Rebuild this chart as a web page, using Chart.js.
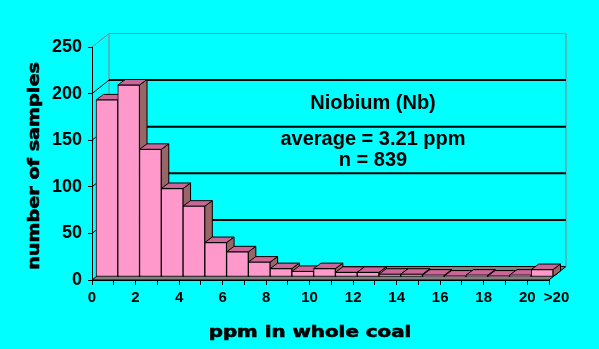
<!DOCTYPE html>
<html>
<head>
<meta charset="utf-8">
<script src="https://cdn.jsdelivr.net/npm/chart.js@4.4.0/dist/chart.umd.min.js"></script>
<style>
  html, body { margin: 0; padding: 0; background: #00FFFF; }
  canvas { display: block; }
</style>
</head>
<body>
<canvas id="nbChart" width="599" height="349"></canvas>
<script>
// histogram bins in ppm (bin 20 is the ">20" bin)
const binStarts = [0, 1, 2, 3, 4, 5, 6, 7, 8, 9, 10, 11, 12, 13, 14, 15, 16, 17, 18, 19, 20];
const sampleCounts = [190, 206, 137, 95, 76, 37, 27, 16, 9, 6, 9, 5, 5, 3, 3, 2, 1, 2, 1, 2, 8];
const yTickValues = [0, 50, 100, 150, 200, 250];
const xTickLabels = ['0', '', '2', '', '4', '', '6', '', '8', '', '10', '', '12', '', '14', '', '16', '', '18', '', '20', '\u2002\u2002>20'];
const noteLines = ['Niobium (Nb)', 'average = 3.21 ppm', 'n = 839'];

const FRONT = '#FF99CC', TOP = '#CC6699', SIDE = '#996666', FLOOR = '#808080';
const WALL = { dx: 17, dy: -13.5 };   // back wall offset from the front plane
const BAR = { dx: 4, dy: -3 };        // bars sit a little behind the front plane
const DEPTH = { dx: 7.5, dy: -5.5 };  // depth of each column

function poly(ctx, pts, fill) {
    ctx.beginPath();
    ctx.moveTo(pts[0][0], pts[0][1]);
    for (let i = 1; i < pts.length; i++) ctx.lineTo(pts[i][0], pts[i][1]);
    ctx.closePath();
    ctx.fillStyle = fill;
    ctx.fill();
    ctx.stroke();
}

function line(ctx, x1, y1, x2, y2) {
    ctx.beginPath();
    ctx.moveTo(x1, y1);
    ctx.lineTo(x2, y2);
    ctx.stroke();
}

const depthPlugin = {
    id: 'depth3d',
    beforeDatasetsDraw(chart) {
        const ctx = chart.ctx;
        const xs = chart.scales.x, ys = chart.scales.y;
        const left = xs.getPixelForValue(0), right = xs.getPixelForValue(21);
        const base = ys.getPixelForValue(0), top = ys.getPixelForValue(250);

        ctx.save();
        // floor
        ctx.strokeStyle = '#000';
        ctx.lineWidth = 1;
        poly(ctx, [[left, base], [right, base], [right + WALL.dx, base + WALL.dy], [left + WALL.dx, base + WALL.dy]], FLOOR);

        // wall edges
        ctx.strokeStyle = '#808080';
        line(ctx, left + WALL.dx, top + WALL.dy, left + WALL.dx, base + WALL.dy);
        line(ctx, right + WALL.dx, top + WALL.dy, right + WALL.dx, base + WALL.dy);

        // gridlines on back wall + diagonals on side wall
        yTickValues.forEach(v => {
            if (v === 0) return;
            const py = ys.getPixelForValue(v);
            const isTop = v === yTickValues[yTickValues.length - 1];
            ctx.strokeStyle = isTop ? '#808080' : '#000';
            ctx.lineWidth = 1;
            line(ctx, left, py, left + WALL.dx, py + WALL.dy);
            ctx.lineWidth = isTop ? 1 : 2;
            line(ctx, left + WALL.dx, py + WALL.dy, right + WALL.dx, py + WALL.dy);
        });
        ctx.restore();

        // column sides and tops, then the library draws the front faces
        ctx.save();
        ctx.translate(BAR.dx, BAR.dy);
        ctx.strokeStyle = '#000';
        ctx.lineWidth = 1;
        const meta = chart.getDatasetMeta(0);
        meta.data.forEach(bar => {
            const l = bar.x - bar.width / 2, r = bar.x + bar.width / 2;
            const t = bar.y, b = bar.base;
            poly(ctx, [[r, t], [r + DEPTH.dx, t + DEPTH.dy], [r + DEPTH.dx, b + DEPTH.dy], [r, b]], SIDE);
            poly(ctx, [[l, t], [r, t], [r + DEPTH.dx, t + DEPTH.dy], [l + DEPTH.dx, t + DEPTH.dy]], TOP);
        });
        // keep translation for the dataset draw
    },
    afterDatasetsDraw(chart) {
        chart.ctx.restore();
    },
    afterDraw(chart) {
        const ctx = chart.ctx;
        ctx.save();
        ctx.fillStyle = '#000';
        ctx.strokeStyle = '#000';
        ctx.textAlign = 'center';
        ctx.textBaseline = 'alphabetic';

        // note inside the plot
        ctx.font = 'bold 20px "Liberation Sans", Arial, sans-serif';
        const noteY = [109, 145, 166];
        noteLines.forEach((txt, i) => ctx.fillText(txt, 373, noteY[i]));

        // x axis title
        ctx.save();
        ctx.translate(310, 337);
        ctx.scale(1.24, 1);
        ctx.font = 'bold 16px "DejaVu Sans", sans-serif';
        ctx.lineWidth = 0.6;
        ctx.fillText('ppm in whole coal', 0, 0);
        ctx.strokeText('ppm in whole coal', 0, 0);
        ctx.restore();

        // y axis title
        ctx.save();
        ctx.translate(39, 166);
        ctx.rotate(-Math.PI / 2);
        ctx.scale(1.2, 1);
        ctx.font = 'bold 16px "DejaVu Sans", sans-serif';
        ctx.lineWidth = 0.6;
        ctx.fillText('number of samples', 0, 0);
        ctx.strokeText('number of samples', 0, 0);
        ctx.restore();

        ctx.restore();
    }
};

const tickFont = { family: '"Liberation Sans", Arial, sans-serif', weight: 'bold' };

new Chart(document.getElementById('nbChart').getContext('2d'), {
    type: 'bar',
    data: {
        datasets: [{
            data: binStarts.map((b, i) => ({ x: b + 0.5, y: sampleCounts[i] })),
            backgroundColor: FRONT,
            borderColor: '#000',
            borderWidth: 1,
            borderSkipped: false,
            barPercentage: 1,
            categoryPercentage: 1,
            clip: false
        }]
    },
    options: {
        responsive: false,
        animation: false,
        layout: { padding: { left: 19, right: 50, top: 47, bottom: 0 } },
        plugins: {
            legend: { display: false },
            tooltip: { enabled: false }
        },
        scales: {
            x: {
                type: 'linear',
                min: 0,
                max: 21,
                offset: false,
                afterFit: s => { s.height = 69; s.paddingLeft = 0; s.paddingRight = 0; },
                grid: { offset: false, drawOnChartArea: false, color: '#000', tickLength: 5 },
                border: { color: '#000' },
                ticks: {
                    stepSize: 1,
                    autoSkip: false,
                    maxRotation: 0,
                    padding: 4,
                    color: '#000',
                    font: Object.assign({ size: 15 }, tickFont),
                    callback: v => xTickLabels[v] || ''
                }
            },
            y: {
                min: 0,
                max: 250,
                afterFit: s => { s.width = 73; s.paddingTop = 0; s.paddingBottom = 0; },
                grid: { drawOnChartArea: false, color: '#000', tickLength: 4 },
                border: { color: '#000' },
                ticks: {
                    stepSize: 50,
                    padding: 6,
                    color: '#000',
                    font: Object.assign({ size: 18 }, tickFont)
                }
            }
        }
    },
    plugins: [depthPlugin]
});
</script>
</body>
</html>
